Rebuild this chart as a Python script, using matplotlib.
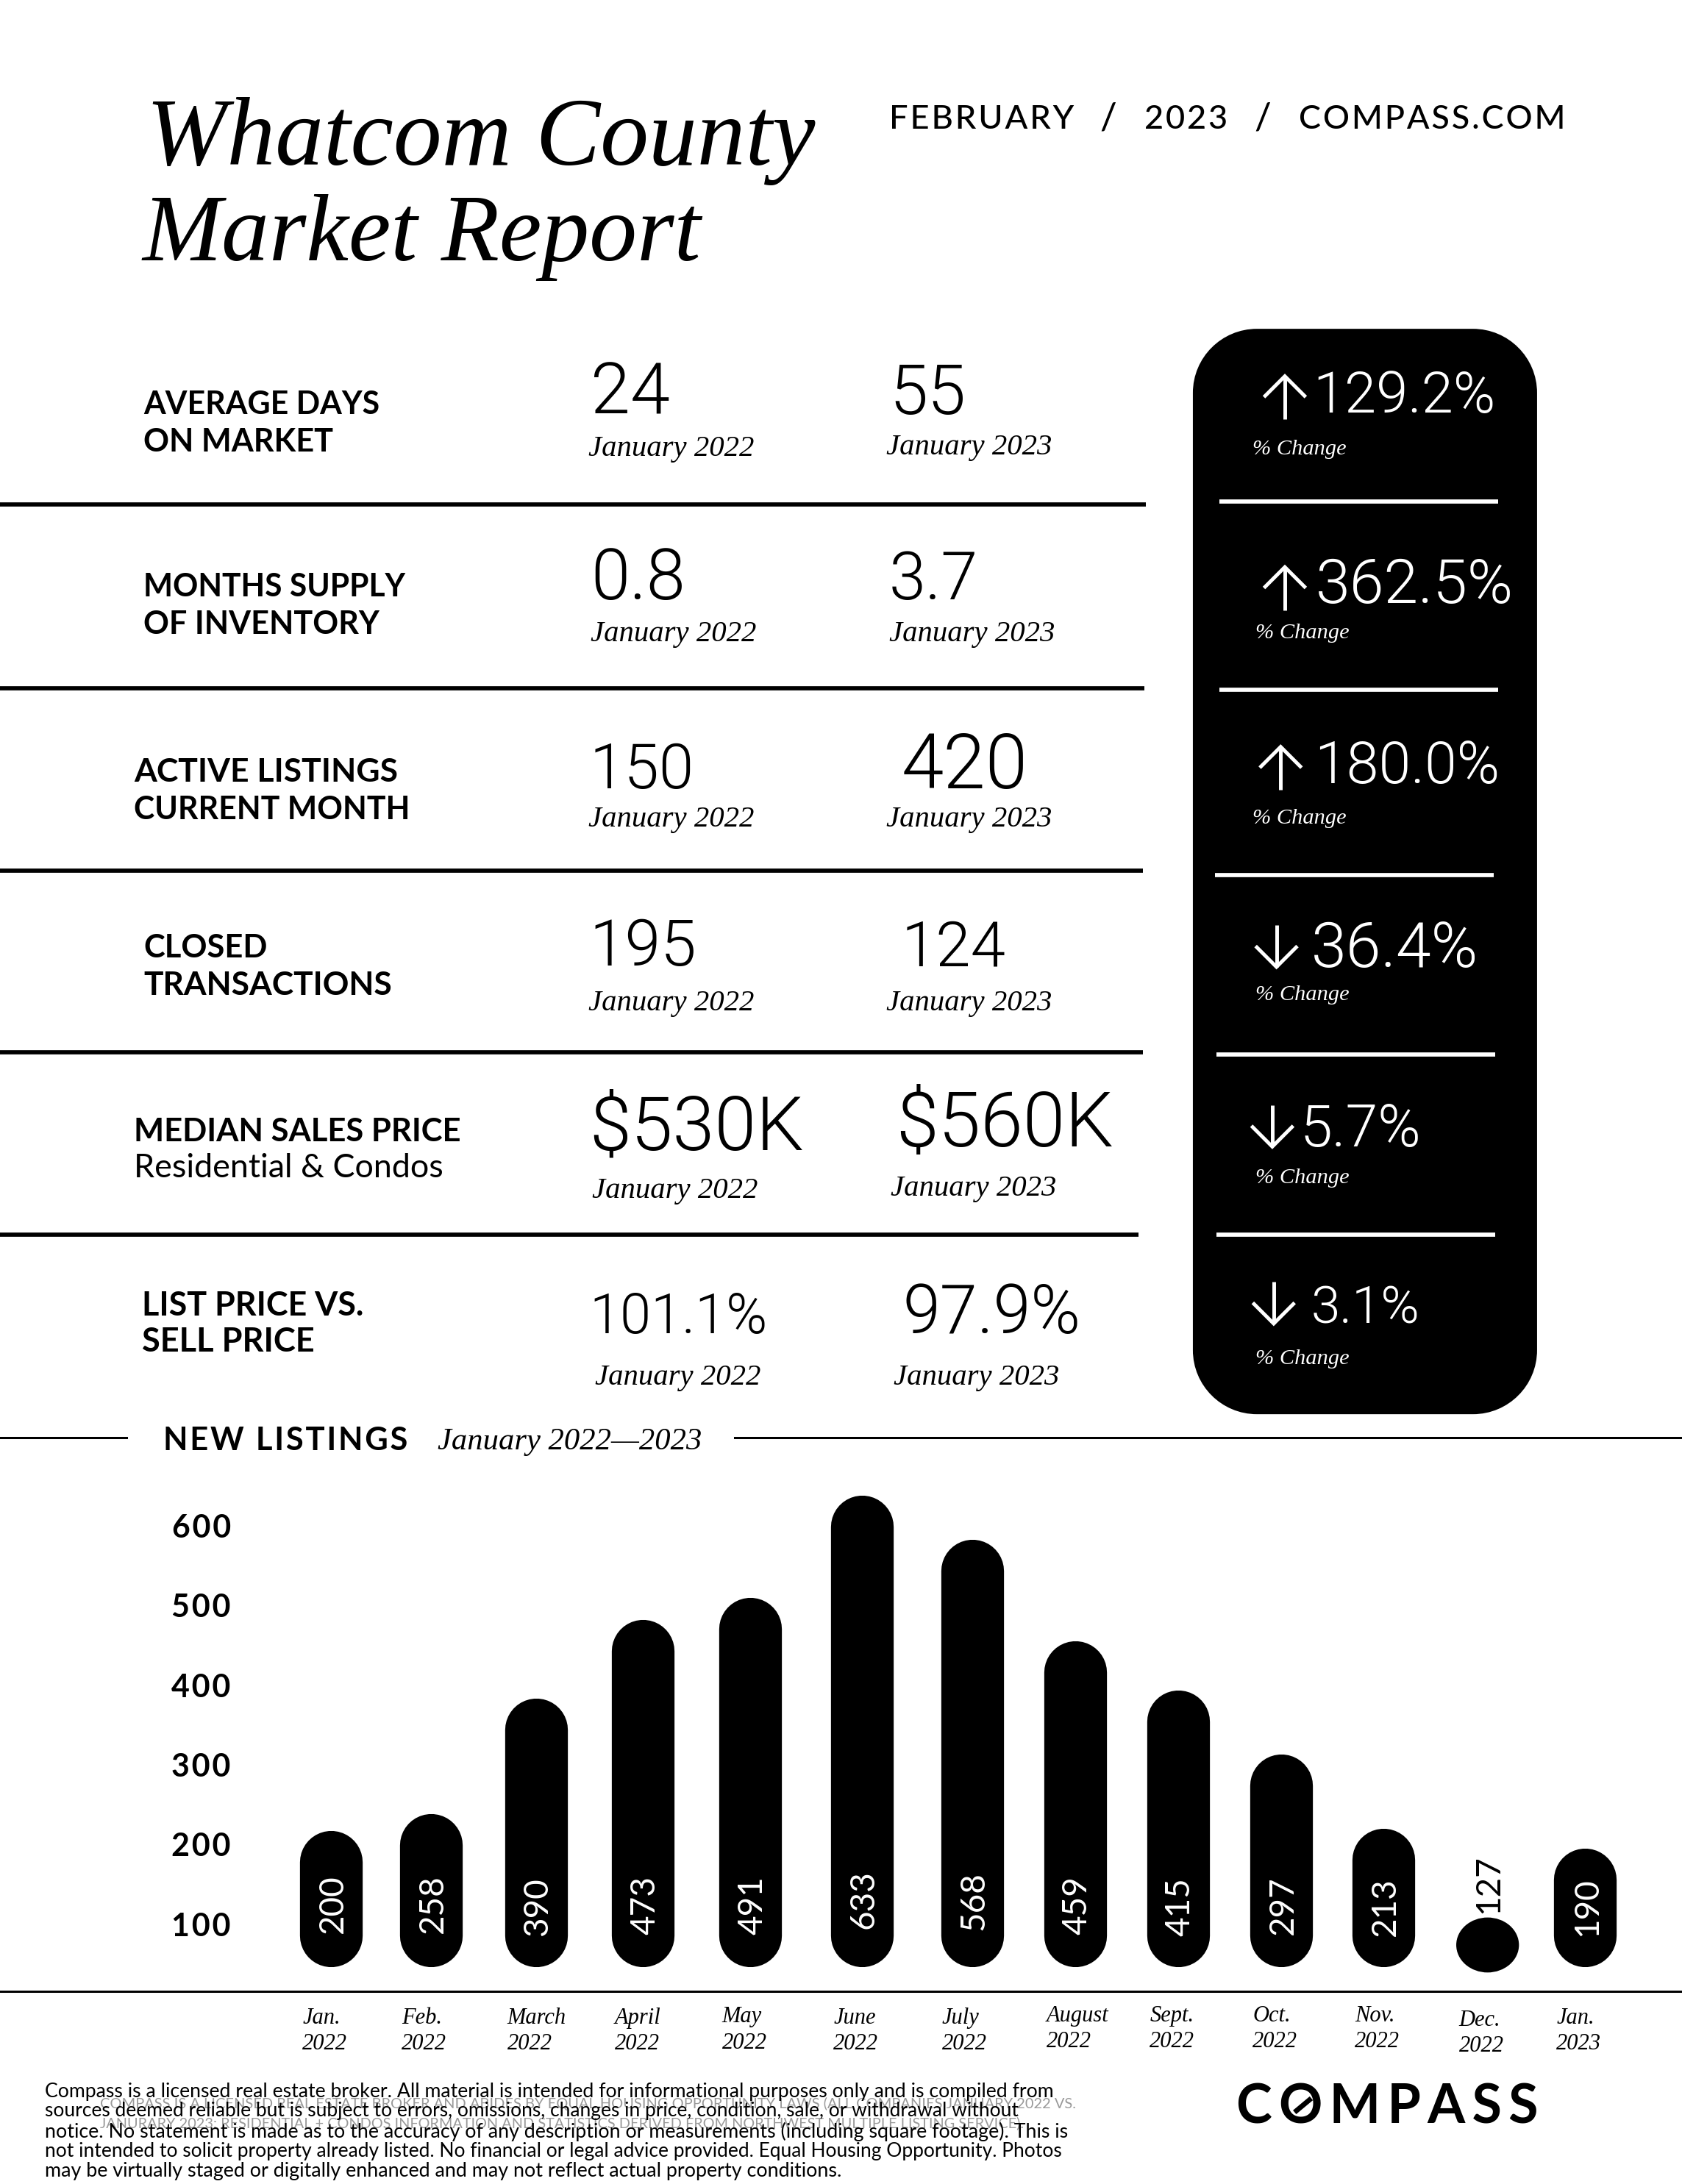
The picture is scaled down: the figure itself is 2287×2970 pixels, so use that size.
import matplotlib
matplotlib.use("Agg")
import matplotlib.pyplot as plt
from matplotlib.patches import Ellipse, PathPatch
from matplotlib.path import Path
from matplotlib.lines import Line2D

# ---------- data ----------
title_lines = ["Whatcom County", "Market Report"]
metric_labels = [["AVERAGE DAYS", "ON MARKET"], ["MONTHS SUPPLY", "OF INVENTORY"],
                 ["ACTIVE LISTINGS", "CURRENT MONTH"], ["CLOSED", "TRANSACTIONS"],
                 ["MEDIAN SALES PRICE", "Residential & Condos"], ["LIST PRICE VS.", "SELL PRICE"]]
values_2022 = ["24", "0.8", "150", "195", "$530K", "101.1%"]
values_2023 = ["55", "3.7", "420", "124", "$560K", "97.9%"]
pct_change = ["129.2%", "362.5%", "180.0%", "36.4%", "5.7%", "3.1%"]
pct_direction = [1, 1, 1, -1, -1, -1]
months = ["Jan.\n2022", "Feb.\n2022", "March\n2022", "April\n2022", "May\n2022", "June\n2022", "July\n2022",
          "August\n2022", "Sept.\n2022", "Oct.\n2022", "Nov.\n2022", "Dec.\n2022", "Jan.\n2023"]
new_listings = [200, 258, 390, 473, 491, 633, 568, 459, 415, 297, 213, 127, 190]
# heights of the pills as drawn, read against the 100-600 axis
drawn_tops = [217, 238, 383, 482, 510, 638, 582, 455, 393, 313, 220, 108, 195]
drawn_bottoms = [46, 46, 46, 46, 46, 46, 46, 46, 46, 46, 46, 39, 46]
y_ticks = [100, 200, 300, 400, 500, 600]
footer = ["Compass is a licensed real estate broker. All material is intended for informational purposes only and is compiled from",
          "sources deemed reliable but is subject to errors, omissions, changes in price, condition, sale, or withdrawal without",
          "notice. No statement is made as to the accuracy of any description or measurements (including square footage). This is",
          "not intended to solicit property already listed. No financial or legal advice provided. Equal Housing Opportunity. Photos",
          "may be virtually staged or digitally enhanced and may not reflect actual property conditions."]
ghost = ["COMPASS IS A LICENSED REAL ESTATE BROKER AND ABIDES BY EQUAL HOUSING OPPORTUNITY LAWS (ALL COMPANIES JANUARY 2022 VS.",
         "JANURARY 2023; RESIDENTIAL + CONDOS INFORMATION AND STATISTICS DERIVED FROM NORTHWEST MULTIPLE LISTING SERVICE)."]

# ---------- layout (in units of a 1207-wide page) ----------
W, H = 2287, 2970
UW, UH = 1207, 1567.5
PT = W / UW * 0.72            # points per page unit
SANS = ["Lato", "DejaVu Sans"]
NUM = ["Roboto", "DejaVu Sans"]
SERIF = ["Liberation Serif", "DejaVu Serif"]

fig = plt.figure(figsize=(W / 100, H / 100), dpi=100, facecolor="white")
page = fig.add_axes([0, 0, 1, 1], zorder=0)
page.set_xlim(0, UW)
page.set_ylim(UH, 0)
page.axis("off")
renderer = fig.canvas.get_renderer()


def T(x, y, s, size, fam=SANS, color="k", w=None, **kw):
    kw.setdefault("va", "baseline")
    t = page.text(x, y, s, fontsize=size, family=fam, color=color, **kw)
    if w is not None:
        ext = t.get_window_extent(renderer)
        t.set_fontsize(size * (w * W / UW) / ext.width)
    return t


def spaced(s, gap="\u200a"):
    return gap.join(s)


def rounded_rect(x0, y0, x1, y1, r):
    k = 0.5523 * r
    v = [(x0 + r, y0), (x1 - r, y0),
         (x1 - r + k, y0), (x1, y0 + r - k), (x1, y0 + r),
         (x1, y1 - r),
         (x1, y1 - r + k), (x1 - r + k, y1), (x1 - r, y1),
         (x0 + r, y1),
         (x0 + r - k, y1), (x0, y1 - r + k), (x0, y1 - r),
         (x0, y0 + r),
         (x0, y0 + r - k), (x0 + r - k, y0), (x0 + r, y0), (x0 + r, y0)]
    c = [Path.MOVETO, Path.LINETO, Path.CURVE4, Path.CURVE4, Path.CURVE4, Path.LINETO,
         Path.CURVE4, Path.CURVE4, Path.CURVE4, Path.LINETO,
         Path.CURVE4, Path.CURVE4, Path.CURVE4, Path.LINETO,
         Path.CURVE4, Path.CURVE4, Path.CURVE4, Path.CLOSEPOLY]
    return Path(v, c)


# title
T(105, 118, title_lines[0], 98, SERIF, style="italic", w=480)
T(102, 187, title_lines[1], 98, SERIF, style="italic", w=401)

# header
for x, s, wd in [(638, spaced("FEBRUARY"), 132), (789, "/", 12), (821, spaced("2023"), 60),
                 (900, "/", 12), (932, spaced("COMPASS.COM"), 191)]:
    T(x, 92.5, s, 32, weight=500, w=wd)

# rows
label_x = [103, 103, 96, 103, 96, 102]
label_y = [(297, 324), (428, 455), (561, 588), (687, 714), (819, 845), (944, 970)]
label_w = [(169, 136), (188, 169), (189, 198), (89, 178), (235, 222), (159, 124)]
num_x22 = [424, 424, 423, 423, 423, 423]
num_x23 = [638, 638, 647, 647, 643, 648]
num_y22 = [297, 430, 566, 693, 825, 957]
num_y23 = [297, 430, 566, 693, 823, 957]
num_w22 = [57, 68, 75, 77, 154, 128]
num_w23 = [55, 64, 91, 75, 156, 128]
date_pos22 = [(422, 327), (424, 460), (422, 593), (422, 725), (425, 860), (427, 994)]
date_pos23 = [(636, 326), (638, 460), (636, 593), (636, 725), (639, 858), (641, 994)]
for i in range(6):
    a, b = metric_labels[i]
    T(label_x[i], label_y[i][0], a, 30, weight="bold", w=label_w[i][0])
    T(label_x[i], label_y[i][1], b, 30, weight="bold" if i != 4 else "normal", w=label_w[i][1])
    T(num_x22[i], num_y22[i], values_2022[i], 70, NUM, weight=300, w=num_w22[i])
    T(num_x23[i], num_y23[i], values_2023[i], 70, NUM, weight=300, w=num_w23[i])
    T(*date_pos22[i], "January 2022", 30, SERIF, style="italic", w=119)
    T(*date_pos23[i], "January 2023", 30, SERIF, style="italic", w=119)

div_y = [362, 494, 625, 755, 886]
div_x = [822, 821, 820, 820, 817]
for y, x in zip(div_y, div_x):
    page.add_line(Line2D([0, x], [y, y], color="k", lw=3.0 * PT, solid_capstyle="butt"))

# panel
page.add_patch(PathPatch(rounded_rect(856, 236, 1103, 1015, 46), fc="k", ec="none"))
wl_y = [360, 495, 628, 757, 886]
wl_x = [875, 875, 872, 873, 873]
for y, x in zip(wl_y, wl_x):
    page.add_line(Line2D([x, x + 200], [y, y], color="w", lw=3.0 * PT, solid_capstyle="butt"))

pct_x = [942, 944, 943, 941, 933, 941]
pct_y = [296, 433, 562, 694, 823, 950]
pct_w = [131, 142, 133, 120, 87, 78]
arrow_x = [922, 922, 919, 916, 913, 914]
chg_pos = [(899, 326), (901, 458), (899, 591), (901, 718), (901, 849), (901, 979)]
for i in range(6):
    T(pct_x[i], pct_y[i], pct_change[i], 62, NUM, color="w", weight=300, w=pct_w[i])
    T(*chg_pos[i], "% Change", 22, SERIF, color="w", style="italic", w=67)
    xc = arrow_x[i]
    lw = 2.6 * PT
    if pct_direction[i] > 0:
        top, bot = pct_y[i] - 26, pct_y[i] + 5
        head = [top + 15, top, top + 15]
    else:
        top, bot = pct_y[i] - 30, pct_y[i]
        head = [bot - 15, bot, bot - 15]
    page.add_line(Line2D([xc, xc], [top, bot], color="w", lw=lw, solid_capstyle="butt"))
    page.add_line(Line2D([xc - 15, xc, xc + 15], head, color="w", lw=lw,
                         solid_joinstyle="miter", solid_capstyle="butt"))

# section heading
T(117, 1041, spaced("NEW LISTINGS"), 29, weight="bold", w=175)
T(314, 1040, "January 2022\u20142023", 28, SERIF, style="italic", w=190)
lw2 = 1.6 * PT
page.add_line(Line2D([0, 91], [1032, 1032], color="k", lw=lw2))
page.add_line(Line2D([527, UW], [1032, 1032], color="k", lw=lw2))
page.add_line(Line2D([0, UW], [1429, 1429], color="k", lw=lw2))

# chart: x in page units, y in listing values
U_TOP, U_BOT = 1060, 1429
AX_L = 170
PX_PER_VALUE = 0.572          # page units per listing
ax = fig.add_axes([AX_L / UW, 1 - U_BOT / UH, (UW - AX_L) / UW, (U_BOT - U_TOP) / UH], zorder=1)
ax.patch.set_alpha(0)
ax.set_xlim(AX_L, UW)
ax.set_ylim((1438 - U_BOT) / PX_PER_VALUE, (1438 - U_TOP) / PX_PER_VALUE)
for s in ax.spines.values():
    s.set_visible(False)

bar_x = [237.5, 309.5, 384.5, 461.5, 538.5, 618.5, 697.5, 771.5, 845.5, 919.5, 992.5, 1067.5, 1137.5]
BAR_W = 45
label_centre = [1366.5, 1366.5, 1368.5, 1367.5, 1367.5, 1363.5, 1364.5, 1367.5, 1368.5, 1367.5, 1368.5, 1352, 1368.5]
for x, top, bottom, val, yc in zip(bar_x, drawn_tops, drawn_bottoms, new_listings, label_centre):
    h_units = (top - bottom) * PX_PER_VALUE
    if h_units > BAR_W:
        cap = (BAR_W / 2) / PX_PER_VALUE
        ax.plot([x, x], [bottom + cap, top - cap], color="k", lw=BAR_W * PT, solid_capstyle="round")
    else:
        ax.add_patch(Ellipse((x, (top + bottom) / 2), BAR_W, top - bottom, fc="k", ec="none"))
    inside = yc > (1438 - top * PX_PER_VALUE)
    ax.text(x + (1.5 if inside else 1), (1438 - yc) / PX_PER_VALUE, str(val), rotation=90, ha="center", va="center",
            fontsize=33, family=SANS, color="w" if inside else "k")

ax.set_yticks(y_ticks, [spaced(str(v)) for v in y_ticks], family=SANS, fontweight="bold", fontsize=31)
ax.tick_params(axis="y", length=0, pad=6)
tick_x = [217, 288, 364, 441, 518, 598, 676, 751, 825, 899, 972, 1047, 1117]
pads = [16, 16, 16, 16, 15, 16, 16, 14, 14, 14, 14, 18, 16]
ax.set_xticks(tick_x, months, family=SERIF, style="italic", fontsize=22, ha="left", linespacing=1.28)
ax.tick_params(axis="x", length=0)
for t, p in zip(ax.xaxis.get_major_ticks(), pads):
    t.set_pad(p)

# footer
ghost_y = [1513, 1527]
ghost_w = [698, 661]
for y, s, wd in zip(ghost_y, ghost, ghost_w):
    T(72, y, s, 16, color="#9a9a9a", w=wd)
foot_y = [1505, 1519, 1534, 1548, 1562]
foot_w = [723, 699, 733, 731, 572]
for y, s, wd in zip(foot_y, footer, foot_w):
    T(32, y, s, 20, w=wd)

# logo
T(887, 1524, spaced("COMPASS", "\u200a\u200a"), 56, weight="bold", w=217)
page.add_line(Line2D([929, 941], [1516, 1506], color="k", lw=3.6 * PT, solid_capstyle="butt"))

fig.savefig("out.png", dpi=100, facecolor="white")
